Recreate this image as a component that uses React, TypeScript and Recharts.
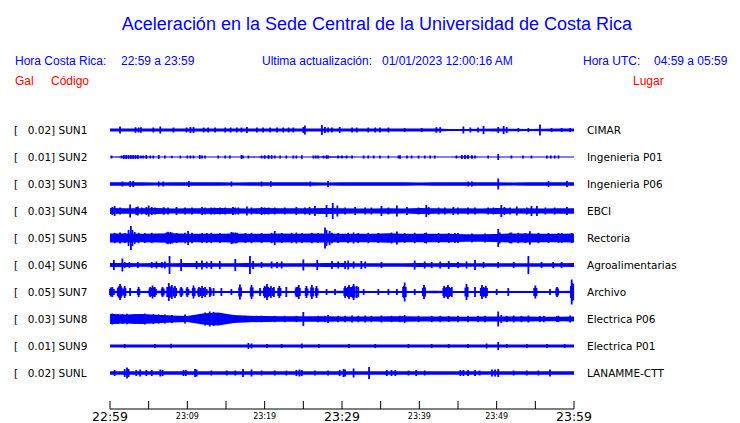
import React from 'react';
import { ComposedChart, Area, Scatter, ErrorBar, XAxis, YAxis } from 'recharts';

// ---------- labels ----------
const codes = ['SUN1', 'SUN2', 'SUN3', 'SUN4', 'SUN5', 'SUN6', 'SUN7', 'SUN8', 'SUN9', 'SUNL'];
const gains = ['0.02', '0.01', '0.03', '0.03', '0.05', '0.04', '0.05', '0.03', '0.01', '0.02'];
const places = ['CIMAR', 'Ingenieria P01', 'Ingenieria P06', 'EBCI', 'Rectoria', 'Agroalimentarias', 'Archivo', 'Electrica P06', 'Electrica P01', 'LANAMME-CTT'];

const timeTicks = [0, 5, 10, 15, 20, 25, 30, 35, 40, 45, 50, 55, 60];
const timeLabels: Record<number, string> = { 0: '22:59', 10: '23:09', 20: '23:19', 30: '23:29', 40: '23:39', 50: '23:49', 60: '23:59' };
const majorTimes = [0, 30, 60];

// ---------- envelope (half thickness of the continuous band), every 2 minutes ----------
const envTimes = [0, 2, 4, 6, 8, 10, 12, 14, 16, 18, 20, 22, 24, 26, 28, 30, 32, 34, 36, 38, 40, 42, 44, 46, 48, 50, 52, 54, 56, 58, 60];
const envSUN1 = [1.5, 1.6, 1.5, 1.6, 1.5, 1.6, 1.5, 1.5, 1.5, 1.5, 1.5, 1.5, 1.5, 1.6, 1.5, 1.5, 1.5, 1.5, 1.5, 1.4, 1.4, 1.5, 1.1, 1.1, 1.2, 1.5, 1.2, 1.1, 1.3, 1.4, 1.4];
const envSUN2 = [0.5, 0.8, 0.8, 0.6, 0.5, 0.6, 0.6, 0.5, 0.5, 0.5, 0.8, 0.6, 0.6, 0.6, 0.7, 0.7, 0.6, 0.6, 0.5, 0.6, 0.6, 0.5, 0.5, 0.8, 0.6, 0.6, 0.5, 0.5, 0.5, 0.6, 0.5];
const envSUN3 = [1.7, 1.7, 1.7, 1.6, 1.7, 1.7, 1.7, 1.7, 1.6, 1.7, 1.7, 1.7, 1.7, 1.7, 1.6, 1.7, 1.7, 1.7, 1.7, 1.7, 1.6, 1.7, 1.7, 1.7, 1.7, 1.7, 1.6, 1.7, 1.7, 1.7, 1.7];
const envSUN4 = [2.9, 2.8, 2.7, 2.9, 2.6, 2.8, 2.7, 2.9, 2.8, 2.6, 2.9, 2.7, 2.7, 2.8, 2.9, 2.7, 2.6, 2.6, 2.8, 2.6, 2.9, 2.8, 2.6, 2.7, 2.6, 2.9, 2.6, 2.8, 2.6, 2.7, 2.8];
const envSUN5 = [4.4, 4.6, 4.2, 4.4, 4.7, 4.3, 4.2, 4.3, 4.6, 4.3, 4.2, 4.4, 4.3, 4.4, 4.6, 4.2, 4.3, 4.2, 4.8, 4.3, 4.2, 4.3, 4.2, 3.8, 3.8, 4.0, 4.5, 4.6, 4.3, 4.2, 4.4];
const envSUN6 = [2.0, 1.9, 1.8, 1.9, 1.8, 1.9, 2.0, 1.8, 1.8, 1.9, 1.8, 1.8, 1.8, 1.8, 2.0, 2.0, 1.8, 1.8, 1.8, 1.8, 2.0, 1.8, 2.0, 1.8, 1.8, 1.8, 1.8, 1.8, 1.8, 1.8, 1.9];
const envSUN7 = [1.3, 1.1, 1.1, 1.2, 1.2, 1.1, 1.2, 1.1, 1.1, 1.1, 1.2, 1.1, 1.1, 1.1, 1.1, 1.2, 1.1, 1.1, 1.1, 1.1, 1.1, 1.2, 1.1, 1.1, 1.1, 1.1, 1.1, 1.1, 1.1, 1.1, 1.2];
const envSUN8 = [5.0, 4.5, 5.0, 4.2, 3.5, 3.0, 5.5, 6.5, 4.0, 3.2, 3.0, 2.8, 2.8, 2.7, 2.8, 2.6, 2.6, 2.5, 2.7, 2.8, 2.4, 2.4, 2.4, 2.3, 2.5, 2.5, 2.4, 2.4, 2.3, 2.3, 2.5];
const envSUN9 = [1.5, 1.5, 1.5, 1.5, 1.6, 1.5, 1.5, 1.5, 1.5, 1.6, 1.5, 1.5, 1.5, 1.5, 1.5, 1.6, 1.5, 1.5, 1.5, 1.5, 1.5, 1.5, 1.6, 1.5, 1.5, 1.6, 1.5, 1.5, 1.5, 1.5, 1.5];
const envSUNL = [1.8, 1.8, 1.7, 1.7, 1.7, 1.8, 1.7, 1.7, 1.7, 1.7, 1.7, 1.7, 1.8, 1.7, 1.7, 1.7, 1.8, 1.7, 1.7, 1.7, 1.7, 1.7, 1.7, 1.8, 1.7, 1.8, 1.7, 1.7, 1.7, 1.7, 1.8];

// ---------- spikes: [minute, half height] ----------
const spkSUN1: [number, number][] = [[1.3, 3.5], [3.3, 2.8], [3.7, 2.5], [4.0, 2.8], [5.6, 2.5], [6.5, 3.5], [8.2, 2.5], [9.9, 2.5], [10.4, 3], [10.8, 3], [12.1, 2.5], [12.7, 2.5], [13.6, 2.5], [14.9, 2.5], [15.6, 2.5], [16.4, 2.5], [17.0, 2.5], [17.7, 3], [19.0, 2.5], [19.8, 2.5], [20.7, 2.5], [21.6, 2.5], [22.4, 2.5], [23.1, 2.5], [23.7, 2.5], [25.0, 3], [25.2, 4.5], [27.4, 5], [27.8, 3], [28.2, 2.5], [28.7, 2.5], [29.7, 3], [31.3, 2.5], [31.9, 2.5], [33.4, 2.5], [34.3, 2.5], [34.9, 2.5], [36.0, 2.5], [38.1, 2], [40.3, 2], [42.2, 2.8], [42.7, 2.8], [45.7, 3.5], [46.6, 2.5], [47.6, 2.5], [48.3, 4], [50.2, 3], [50.9, 4], [51.3, 3], [52.8, 2], [54.1, 2], [55.6, 5.5], [57.1, 2], [58.4, 2], [59.5, 2]];
const spkSUN2: [number, number][] = [[0.2, 1.5], [1.5, 1.5], [1.8, 2], [2.1, 2], [2.4, 2], [2.7, 2], [3.0, 2], [3.3, 2], [3.6, 2], [4.0, 1.5], [4.3, 1.5], [4.7, 2], [5.2, 1.5], [5.6, 1.5], [6.3, 2], [7.1, 1.5], [8.0, 1.2], [9.1, 1.5], [10.0, 1.5], [10.4, 1.5], [10.8, 1.5], [11.6, 2], [11.9, 1.5], [12.3, 1.5], [14.0, 1.5], [14.9, 1.5], [15.5, 1.5], [17.0, 2], [17.2, 1.5], [17.9, 1.5], [19.6, 1.5], [20.0, 1.8], [20.5, 2], [20.9, 1.8], [21.3, 1.5], [22.0, 1.5], [22.8, 1.5], [23.7, 1.5], [24.1, 1.5], [24.8, 1.8], [26.3, 1.5], [26.6, 1.5], [26.9, 1.5], [27.6, 1.5], [28.0, 1.8], [28.2, 1.5], [29.5, 1.5], [30.0, 1.5], [30.6, 1.5], [31.3, 1.5], [32.8, 1.5], [33.4, 1.5], [34.1, 1.5], [34.9, 1.5], [36.0, 1.5], [37.3, 1.5], [37.5, 1.8], [38.4, 1.5], [39.0, 1.5], [39.9, 1.5], [40.7, 1.5], [41.4, 1.5], [42.0, 1.5], [44.8, 1.5], [45.5, 2], [45.9, 2], [46.3, 2], [46.8, 1.8], [47.2, 1.5], [48.9, 1.5], [50.2, 3], [51.9, 1.5], [53.4, 1.5], [54.5, 1.5], [56.5, 1.5], [57.0, 1.5], [57.5, 1.5], [58.0, 1.5]];
const spkSUN3: [number, number][] = [[1.6, 2.5], [2.6, 3], [3.0, 3], [6.3, 2.5], [6.9, 2.5], [10.2, 3], [15.7, 2.5], [19.6, 2.5], [20.8, 2.8], [25.9, 2.5], [28.2, 3], [46.3, 2.5], [46.8, 2.5], [50.2, 5.5], [56.7, 3], [59.1, 3]];
const spkSUN4: [number, number][] = [[0.3, 4], [0.6, 5], [1.3, 3.5], [2.6, 6.5], [3.4, 4], [3.6, 4.5], [4.1, 3.5], [4.7, 4], [5.0, 5.5], [5.4, 4], [5.8, 3.5], [6.9, 3.5], [7.0, 3.5], [7.5, 3.5], [8.6, 4], [9.7, 3.5], [10.6, 3.5], [11.9, 4], [12.3, 3.5], [13.1, 3.5], [13.5, 3.5], [14.2, 3.5], [14.9, 3.5], [15.9, 4], [16.2, 3.5], [16.6, 3.5], [17.7, 4.5], [18.3, 3.5], [19.6, 4], [20.0, 3.5], [20.5, 3.5], [21.3, 3.5], [22.6, 3.5], [24.1, 4], [25.2, 3.5], [25.8, 4], [26.5, 5], [28.0, 6], [28.8, 8], [29.4, 5.5], [30.4, 3.5], [31.7, 4], [33.0, 3.5], [33.8, 3.5], [35.1, 5], [36.0, 3.5], [37.1, 5.5], [38.4, 4], [39.9, 3.5], [40.9, 6], [41.2, 4], [42.5, 3.5], [43.3, 3.5], [44.4, 4], [45.0, 3.5], [46.3, 3.5], [47.2, 3.5], [48.9, 3.5], [49.6, 3.5], [50.6, 6], [51.0, 4], [51.7, 3.5], [52.6, 4.5], [53.9, 3.5], [54.5, 5], [55.2, 5], [56.3, 3.5], [57.5, 3.5], [59.1, 4]];
const spkSUN5: [number, number][] = [[0.6, 5.2], [1.3, 5.5], [1.9, 5], [2.4, 8], [2.7, 12], [2.9, 8], [3.2, 6], [3.7, 5.2], [4.5, 5], [5.4, 5.2], [7.3, 5.5], [7.5, 6.3], [7.8, 6], [8.0, 5.5], [8.6, 5], [9.7, 5.2], [10.1, 7], [10.6, 5.2], [11.9, 5], [12.5, 5], [13.1, 5.2], [14.2, 5], [15.7, 6], [15.9, 5.5], [16.2, 5.5], [16.4, 5.2], [17.5, 5], [18.3, 5.2], [19.6, 5], [20.9, 5.2], [21.3, 7], [22.2, 5], [23.5, 5.2], [24.1, 5.5], [24.8, 5], [26.1, 5.2], [26.9, 5], [27.8, 10.5], [28.0, 8], [28.4, 7], [28.7, 5.2], [29.5, 5], [30.8, 5.2], [31.5, 5.5], [32.1, 5], [33.4, 5.2], [34.7, 5], [36.4, 5.5], [37.1, 6.5], [38.1, 5], [39.4, 5.2], [40.7, 5], [40.9, 5.5], [42.5, 5], [43.8, 5], [44.6, 5], [45.0, 5], [46.8, 4.5], [48.5, 4.5], [50.2, 9], [50.4, 5.5], [51.7, 5.2], [51.9, 5.5], [52.8, 5.2], [53.7, 5], [54.3, 6.7], [55.4, 5.2], [56.7, 5], [58.0, 5], [58.4, 5], [59.7, 5]];
const spkSUN6: [number, number][] = [[0.5, 5], [1.6, 6.5], [1.9, 3], [2.5, 3], [3.6, 3], [5.4, 3], [6.0, 3.5], [6.7, 3], [7.1, 3.5], [7.7, 9], [9.2, 6], [11.2, 4], [11.9, 4.5], [12.5, 3.5], [13.1, 4], [14.2, 4], [16.2, 6], [18.1, 9], [18.5, 4], [19.6, 3], [20.9, 3.5], [21.6, 3], [22.2, 3.5], [25.0, 5.5], [26.8, 5], [28.7, 4], [29.5, 3.5], [30.4, 4], [30.8, 4.5], [31.5, 3.5], [32.5, 4], [33.0, 3.5], [35.1, 3], [39.4, 4.5], [40.7, 3.5], [41.6, 3], [42.7, 3.5], [43.8, 4], [45.0, 3], [46.1, 3.5], [47.2, 5], [48.3, 3], [50.2, 3], [52.2, 3], [54.1, 9], [55.8, 3], [57.3, 3], [58.4, 3]];
const spkSUN7: [number, number][] = [[0.0, 3], [0.1, 4.5], [0.2, 3.5], [0.3, 5], [0.5, 3], [1.0, 4], [1.1, 5], [1.2, 6], [1.3, 8], [1.4, 6], [1.5, 4.5], [1.7, 3.5], [1.9, 6], [2.0, 4], [2.6, 4], [3.6, 3], [3.7, 5], [3.8, 3], [5.1, 3.5], [5.2, 5], [5.35, 4], [5.5, 6.5], [5.65, 4.5], [5.8, 5], [5.95, 3], [6.7, 3.5], [6.8, 5], [6.95, 3.5], [7.4, 5], [7.6, 9], [7.75, 5.5], [7.9, 5], [8.0, 7], [8.2, 4.5], [8.4, 6], [8.55, 4], [9.1, 3.5], [9.2, 5], [9.35, 3.5], [9.9, 3.5], [10.0, 5], [10.15, 3], [10.7, 4], [10.8, 6.5], [10.95, 4], [11.4, 3.5], [11.5, 5], [11.7, 4], [11.9, 6], [12.1, 4], [12.3, 5], [12.5, 3], [12.9, 5], [13.05, 3.5], [13.4, 4], [14.4, 4], [15.7, 3], [16.7, 4.5], [16.8, 7.5], [16.95, 4.5], [18.2, 4.5], [18.3, 7], [18.45, 4.5], [19.4, 4], [19.9, 4], [20.0, 6], [20.15, 5], [20.3, 8], [20.45, 5], [20.65, 4], [20.8, 6], [21.0, 4], [21.2, 5], [21.75, 4], [21.9, 6], [22.05, 4], [22.8, 5], [24.0, 3.5], [24.1, 5], [24.25, 5], [24.4, 7], [24.55, 4], [25.3, 4], [25.4, 6], [25.55, 3.5], [26.0, 4.5], [26.1, 7], [26.25, 4.5], [26.6, 4], [26.7, 6], [26.85, 3.5], [28.0, 3], [29.1, 3], [30.3, 4], [30.4, 6], [30.6, 4], [30.75, 5], [30.9, 7], [31.05, 5], [31.25, 5], [31.4, 6], [31.5, 8], [31.65, 5.5], [31.9, 6], [32.1, 5], [32.8, 3], [34.7, 3], [36.0, 3], [37.1, 3], [37.9, 5], [38.0, 6], [38.1, 9.5], [38.25, 5], [39.4, 3], [40.45, 4], [40.6, 7], [40.75, 4.5], [43.1, 4], [43.2, 6], [43.4, 4.5], [43.55, 5], [43.7, 7], [43.85, 5], [44.0, 4], [44.2, 5], [45.95, 4.5], [46.1, 8], [46.25, 5], [47.2, 5], [47.95, 4], [48.1, 7], [48.25, 5], [48.45, 4.5], [48.6, 6], [48.75, 4], [50.0, 3], [51.5, 4], [54.85, 4], [55.0, 6.5], [55.15, 4], [56.9, 3], [57.7, 3.5], [57.8, 5], [57.95, 3.5], [59.6, 6], [59.7, 12.5], [59.8, 9], [59.9, 8]];
const spkSUN8: [number, number][] = [[0.3, 5.5], [0.6, 5], [1.0, 5], [1.6, 4.8], [2.2, 5.2], [2.9, 4.5], [3.3, 5], [3.9, 5], [4.2, 4.5], [4.5, 5.5], [5.0, 4], [5.6, 5], [6.3, 4.5], [7.1, 4.5], [8.0, 4], [9.7, 4.5], [12.3, 6.5], [12.9, 7.5], [13.4, 7], [14.2, 6], [15.0, 5], [17.5, 3.2], [19.6, 3.2], [21.3, 3.2], [22.6, 3.2], [24.1, 3.2], [25.0, 7], [26.9, 3.2], [27.8, 3.2], [28.2, 4], [29.5, 3.2], [30.4, 3.2], [31.3, 3.5], [32.1, 3.2], [33.0, 3.5], [33.8, 3.2], [35.1, 3.5], [36.4, 3.2], [37.5, 3.2], [38.1, 4], [39.9, 3.2], [41.6, 3.2], [42.7, 3.2], [43.8, 3], [45.0, 3.2], [46.3, 3.2], [47.6, 3.2], [48.5, 3.2], [50.2, 7.5], [50.6, 4], [51.3, 3.2], [52.2, 3.5], [53.2, 3.2], [54.1, 3.5], [55.6, 3], [56.1, 3.2], [57.8, 3], [58.0, 3.2], [59.5, 3.5]];
const spkSUN9: [number, number][] = [[1.9, 2], [5.8, 2], [7.9, 2.3], [17.9, 3], [18.3, 2.5], [20.3, 2], [22.2, 2], [24.8, 2.5], [27.0, 2], [30.9, 2], [34.3, 2], [38.6, 2], [41.6, 2], [43.8, 2], [46.3, 2], [48.7, 2.5], [50.2, 4], [51.3, 2], [53.9, 2], [56.5, 2], [58.8, 2]];
const spkSUNL: [number, number][] = [[0.6, 3], [1.9, 4], [2.2, 5.5], [2.4, 4], [3.4, 3], [3.9, 3.5], [4.7, 3], [5.4, 3], [6.5, 3.5], [6.8, 3], [9.5, 3], [9.8, 3], [11.0, 4], [11.2, 3.5], [13.1, 2.5], [15.1, 2.5], [16.2, 2.5], [17.2, 4], [18.3, 3.5], [19.6, 2.5], [21.3, 2.5], [22.8, 2.5], [24.1, 3], [24.5, 3.5], [24.8, 3], [26.5, 2.5], [28.2, 2.5], [29.7, 3], [30.2, 4], [30.4, 3.5], [31.5, 4.5], [33.5, 6], [35.8, 3], [36.4, 3], [36.9, 3], [38.6, 2.5], [39.6, 3], [40.7, 2.5], [45.3, 3], [45.7, 3], [46.3, 3], [47.2, 3], [47.8, 2.5], [49.4, 3.5], [49.8, 3.5], [50.2, 4], [52.2, 2.5], [53.9, 2.5], [55.4, 2.5], [56.9, 3.5]];

const envelopes = [envSUN1, envSUN2, envSUN3, envSUN4, envSUN5, envSUN6, envSUN7, envSUN8, envSUN9, envSUNL];
const spikes = [spkSUN1, spkSUN2, spkSUN3, spkSUN4, spkSUN5, spkSUN6, spkSUN7, spkSUN8, spkSUN9, spkSUNL];

// ---------- layout ----------
const BLUE = '#0000ff';
const RED = '#ff0000';
const N = codes.length;
const ROW_PX = 27; // one trace row in pixels; amplitudes above are in pixels
const PLOT_TOP = 103;
const PLOT_BOTTOM = 409;
const Y_MAX = N;
const Y_MIN = Y_MAX - (PLOT_BOTTOM - PLOT_TOP) / ROW_PX;
const rowTicks = codes.map((_, i) => N - 1 - i);

const chartData = envTimes.map((t, k) => {
  const row: any = { t };
  envelopes.forEach((env, i) => {
    const c = N - 1 - i;
    const h = env[k] / ROW_PX;
    row['r' + i] = [c - h, c + h];
  });
  return row;
});

const spikeData = spikes.map((list, i) =>
  list.map(([t, a]) => ({ t, y: N - 1 - i, err: a / ROW_PX }))
);

const FONT_MONO = '"DejaVu Sans", sans-serif';
const FONT_HEAD = '"Liberation Sans", Arial, sans-serif';

const TimeTick = (props: any) => {
  const { x, y, payload } = props;
  const v = payload.value;
  const label = timeLabels[v];
  const major = majorTimes.includes(v);
  return (
    <g>
      <line x1={x} x2={x} y1={y} y2={y - 8} stroke="#000" strokeWidth={1} />
      {label ? (
        <text x={x} y={y + (major ? 11.5 : 9.5)} textAnchor="middle" fontSize={major ? 12.5 : 8} fontFamily={FONT_MONO} fill="#000">
          {label}
        </text>
      ) : null}
    </g>
  );
};

const LeftTick = (props: any) => {
  const { x, y, payload } = props;
  const i = N - 1 - payload.value;
  return (
    <g>
      <text x={x - 96} y={y + 4} fontSize={10.5} fontFamily={FONT_MONO} fill="#000">[</text>
      <text x={x - 82.3} y={y + 4} fontSize={10.5} fontFamily={FONT_MONO} fill="#000">{`${gains[i]}] ${codes[i]}`}</text>
    </g>
  );
};

const RightTick = (props: any) => {
  const { x, y, payload } = props;
  const i = N - 1 - payload.value;
  return (
    <text x={x + 13} y={y + 4} fontSize={10.5} fontFamily={FONT_MONO} fill="#000">{places[i]}</text>
  );
};

const Header = () => (
  <svg width={740} height={100} style={{ position: 'absolute', left: 0, top: 0 }}>
    <text x={377} y={29.5} textAnchor="middle" fontSize={18} fontFamily={FONT_HEAD} fill={BLUE}>
      Aceleración en la Sede Central de la Universidad de Costa Rica
    </text>
    <text x={15} y={65} fontSize={12} fontFamily={FONT_HEAD} fill={BLUE}>Hora Costa Rica:</text>
    <text x={121} y={65} fontSize={12} fontFamily={FONT_HEAD} fill={BLUE}>22:59 a 23:59</text>
    <text x={262} y={65} fontSize={12} fontFamily={FONT_HEAD} fill={BLUE}>Ultima actualización:</text>
    <text x={382} y={65} fontSize={12} fontFamily={FONT_HEAD} fill={BLUE}>01/01/2023 12:00:16 AM</text>
    <text x={583} y={65} fontSize={12} fontFamily={FONT_HEAD} fill={BLUE}>Hora UTC:</text>
    <text x={654} y={65} fontSize={12} fontFamily={FONT_HEAD} fill={BLUE}>04:59 a 05:59</text>
    <text x={15} y={85} fontSize={12} fontFamily={FONT_HEAD} fill={RED}>Gal</text>
    <text x={51} y={85} fontSize={12} fontFamily={FONT_HEAD} fill={RED}>Código</text>
    <text x={633} y={85} fontSize={12} fontFamily={FONT_HEAD} fill={RED}>Lugar</text>
  </svg>
);

export default function App() {
  return (
    <div style={{ position: 'absolute', left: 0, top: 0, width: 740, height: 423, background: '#fff', overflow: 'hidden' }}>
      <ComposedChart
        width={740}
        height={423}
        data={chartData}
        margin={{ top: PLOT_TOP, right: 6, bottom: 0, left: 10 }}
      >
        <XAxis
          type="number"
          dataKey="t"
          domain={[0, 60]}
          ticks={timeTicks}
          interval={0}
          allowDataOverflow
          height={14}
          tickSize={0}
          tickMargin={0}
          tickLine={false}
          axisLine={{ stroke: '#000', strokeWidth: 1 }}
          tick={<TimeTick />}
        />
        <YAxis
          yAxisId="left"
          type="number"
          domain={[Y_MIN, Y_MAX]}
          ticks={rowTicks}
          interval={0}
          allowDataOverflow
          width={100}
          axisLine={false}
          tickLine={false}
          tickSize={0}
          tickMargin={0}
          tick={<LeftTick />}
        />
        <YAxis
          yAxisId="right"
          orientation="right"
          type="number"
          domain={[Y_MIN, Y_MAX]}
          ticks={rowTicks}
          interval={0}
          allowDataOverflow
          width={160}
          axisLine={false}
          tickLine={false}
          tickSize={0}
          tickMargin={0}
          tick={<RightTick />}
        />
        {envelopes.map((_, i) => (
          <Area
            key={'a' + i}
            yAxisId="left"
            dataKey={'r' + i}
            type="linear"
            stroke="none"
            fill={BLUE}
            fillOpacity={1}
            dot={false}
            activeDot={false}
            isAnimationActive={false}
          />
        ))}
        {spikeData.map((d, i) => (
          <Scatter
            key={'s' + i}
            yAxisId="left"
            data={d}
            dataKey="y"
            fill={BLUE}
            shape={() => <g />}
            isAnimationActive={false}
          >
            <ErrorBar dataKey="err" direction="y" width={0} stroke={BLUE} strokeWidth={1.8} isAnimationActive={false} />
          </Scatter>
        ))}
      </ComposedChart>
      <Header />
    </div>
  );
}
